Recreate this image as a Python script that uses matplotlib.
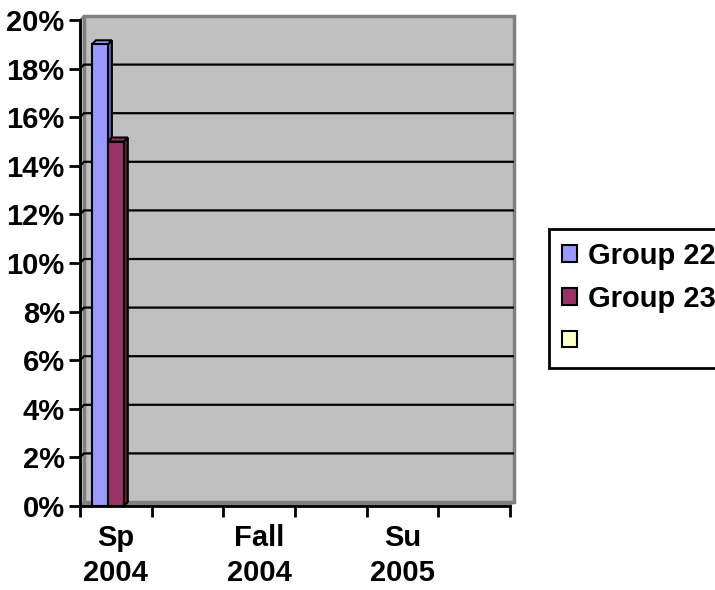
import matplotlib
matplotlib.use("Agg")
import matplotlib.pyplot as plt
import numpy as np
from matplotlib.patches import Rectangle, Polygon, Patch

# terms on the category axis (only every other one is labelled)
terms = ["Sp\n2004", "", "Fall\n2004", "", "Su\n2005", ""]
series_names = ["Group 22", "Group 23", ""]
group22 = [0.19, np.nan, np.nan, np.nan, np.nan, np.nan]
group23 = [0.15, np.nan, np.nan, np.nan, np.nan, np.nan]
group_blank = [np.nan] * 6
yticks = [0.00, 0.02, 0.04, 0.06, 0.08, 0.10, 0.12, 0.14, 0.16, 0.18, 0.20]

face_colors = ["#9999FF", "#993366", "#FFFFCC"]
side_colors = ["#6666CC", "#66213F", "#CCCC99"]

plt.rcParams["font.family"] = ["Liberation Sans", "DejaVu Sans"]
plt.rcParams["font.weight"] = "bold"
FS = 21

W, H = 715, 590
fig = plt.figure(figsize=(W / 100, H / 100), dpi=100, facecolor="white")
ax = fig.add_axes([80 / W, (H - 506) / H, 430 / W, 486 / H])
ax.set_xlim(0, 6)
ax.set_ylim(0, 0.20)
ax.set_facecolor("none")

# depth of the 3-D box in data units (4 px each way)
depth_px = 4
dx = depth_px * 6 / 430
dy = depth_px * 0.20 / 486

# side wall, floor and back wall
ax.add_patch(Polygon([(0, 0), (dx, dy), (dx, 0.20 + dy), (0, 0.20)], closed=True,
                     facecolor="#C0C0C0", edgecolor="#808080", lw=1.5, clip_on=False, zorder=0))
ax.add_patch(Polygon([(0, 0), (6, 0), (6 + dx, dy), (dx, dy)], closed=True,
                     facecolor="#808080", edgecolor="#808080", lw=1, clip_on=False, zorder=0))
ax.add_patch(Rectangle((dx, dy), 6, 0.20, facecolor="#C0C0C0", edgecolor="#808080",
                       lw=2.5, clip_on=False, zorder=0.5))

# gridlines on the back wall
for v in yticks[1:-1]:
    ax.plot([0, dx, 6 + dx], [v, v + dy, v + dy], color="black", lw=1.6,
            clip_on=False, zorder=1, solid_capstyle="butt")

# 3-D columns
width = 0.222
start = 0.167
for i, vals in enumerate([group22, group23, group_blank]):
    for c, h in enumerate(vals):
        if np.isnan(h):
            continue
        x0 = c + start + i * width
        x1 = x0 + width
        z = 2 + i
        ax.add_patch(Polygon([(x1, 0), (x1 + dx, dy), (x1 + dx, h + dy), (x1, h)], closed=True,
                             facecolor=side_colors[i], edgecolor="black", lw=1.5,
                             clip_on=False, zorder=z))
        ax.add_patch(Polygon([(x0, h), (x1, h), (x1 + dx, h + dy), (x0 + dx, h + dy)], closed=True,
                             facecolor=face_colors[i], edgecolor="black", lw=1.5,
                             clip_on=False, zorder=z))
        ax.add_patch(Rectangle((x0, 0), width, h, facecolor=face_colors[i],
                               edgecolor="black", lw=1.5, clip_on=False, zorder=z))

for s in ["top", "right"]:
    ax.spines[s].set_visible(False)
for s in ["left", "bottom"]:
    ax.spines[s].set_linewidth(2)
    ax.spines[s].set_zorder(6)

ax.set_yticks(yticks)
ax.set_yticklabels([f"{int(round(v * 100))}%" for v in yticks], fontsize=FS, fontweight="bold")
ax.tick_params(axis="y", direction="out", length=8, width=2, pad=3)

ax.set_xticks(np.arange(7))
ax.set_xticklabels([])
ax.set_xticks(np.arange(6) + 0.5, minor=True)
ax.set_xticklabels(terms, minor=True, fontsize=FS, fontweight="bold", linespacing=1.33)
ax.tick_params(axis="x", which="major", direction="out", length=8, width=2)
ax.tick_params(axis="x", which="minor", length=0, pad=13)

handles = [Patch(facecolor=c, edgecolor="black", lw=1.5) for c in face_colors]
leg = fig.legend(handles, series_names, loc="upper left",
                 bbox_to_anchor=(549 / W, 1 - 229 / H), bbox_transform=fig.transFigure,
                 prop={"weight": "bold", "size": FS},
                 frameon=True, fancybox=False, shadow=False, borderpad=0.45,
                 labelspacing=0.5, handlelength=0.5, handleheight=0.5,
                 handletextpad=0.4, borderaxespad=0)
leg.get_frame().set_edgecolor("black")
leg.get_frame().set_linewidth(2)
leg.get_frame().set_alpha(None)
leg.get_frame().set_facecolor("white")

fig.savefig("out.png", dpi=100)
